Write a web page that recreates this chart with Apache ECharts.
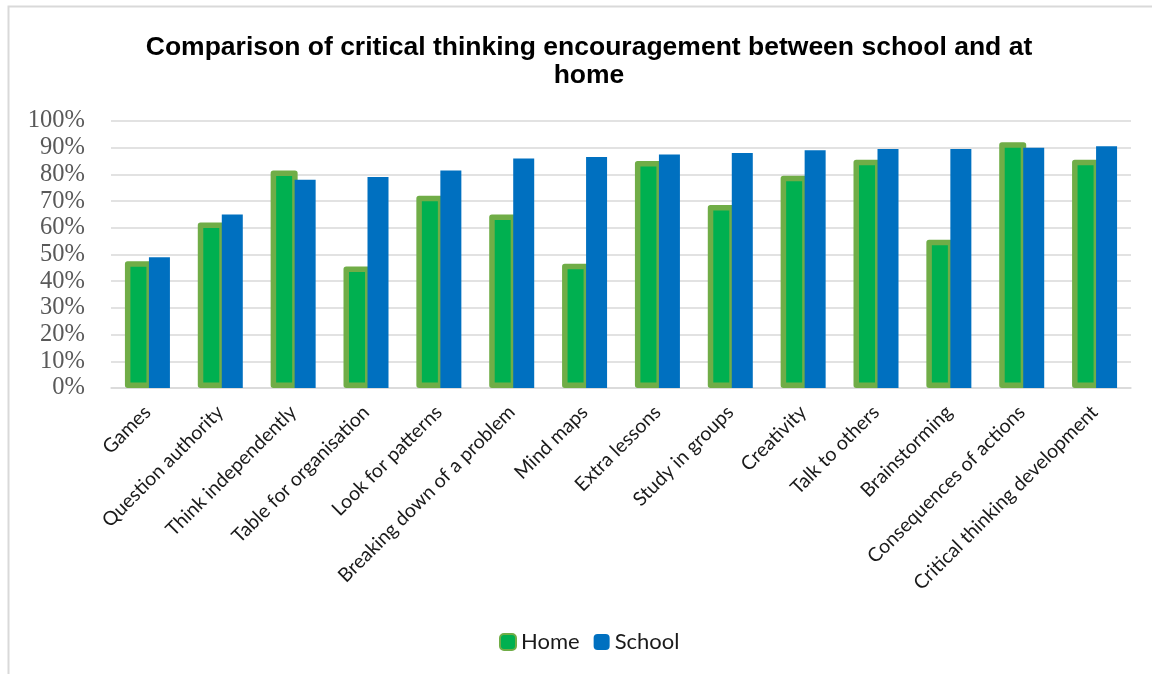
<!DOCTYPE html>
<html>
<head>
<meta charset="utf-8">
<script src="https://cdn.jsdelivr.net/npm/echarts@6/dist/echarts.min.js"></script>
<style>
  html, body { margin: 0; padding: 0; background: #ffffff; }
  #chart { width: 1152px; height: 674px; }
</style>
</head>
<body>
<div id="chart"></div>
<script>
// Survey items, in display order
const categories = [
  'Games', 'Question authority', 'Think independently', 'Table for organisation',
  'Look for patterns', 'Breaking down of a problem', 'Mind maps', 'Extra lessons',
  'Study in groups', 'Creativity', 'Talk to others', 'Brainstorming',
  'Consequences of actions', 'Critical thinking development'
];

// Share of respondents (%) encouraged at home
const homeValues = [47.5, 62, 81.5, 45.5, 72, 65, 46.5, 85, 68.5, 79.5, 85.5, 55.5, 92, 85.5];

// Share of respondents (%) encouraged at school
const schoolValues = [49, 65, 78, 79, 81.5, 86, 86.5, 87.5, 88, 89, 89.5, 89.5, 90, 90.5];

// Value axis ticks
const yTicks = [0, 10, 20, 30, 40, 50, 60, 70, 80, 90, 100];

const chart = echarts.init(document.getElementById('chart'), null, { renderer: 'canvas' });

const homeBarWidth = 27;
const schoolBarWidth = 21;

chart.setOption({
  backgroundColor: '#ffffff',
  animation: false,
  title: {
    text: 'Comparison of critical thinking encouragement between school and at\nhome',
    left: 584,
    textAlign: 'center',
    top: 29,
    textStyle: {
      fontFamily: '"Liberation Sans", Arial, sans-serif',
      fontWeight: 'bold',
      fontSize: 26.5,
      lineHeight: 28,
      color: '#000000'
    }
  },
  graphic: [
    {
      type: 'rect',
      silent: true,
      shape: { x: 8.5, y: 6.5, width: 1200, height: 800 },
      style: { fill: 'none', stroke: '#d9d9d9', lineWidth: 2 }
    }
  ],
  legend: {
    data: ['Home', 'School'],
    left: 494,
    top: 626,
    itemWidth: 16,
    itemHeight: 16,
    itemGap: 14,
    textStyle: {
      fontFamily: 'Lato, "Open Sans", sans-serif',
      fontSize: 22,
      color: '#1a1a1a'
    }
  },
  grid: {
    left: 111,
    right: 21,
    top: 121,
    bottom: 286,
    containLabel: false
  },
  xAxis: {
    type: 'category',
    data: categories,
    axisLine: { lineStyle: { color: '#d9d9d9', width: 1.5 } },
    axisTick: { show: false },
    axisLabel: {
      rotate: 45,
      interval: 0,
      margin: 21,
      fontFamily: 'Lato, "Open Sans", sans-serif',
      fontSize: 19.5,
      color: '#1a1a1a'
    }
  },
  yAxis: {
    type: 'value',
    min: yTicks[0],
    max: yTicks[yTicks.length - 1],
    interval: yTicks[1] - yTicks[0],
    axisLine: { show: false },
    axisTick: { show: false },
    splitLine: { lineStyle: { color: '#d9d9d9', width: 1.5 } },
    axisLabel: {
      formatter: '{value}%',
      margin: 26,
      fontFamily: '"Liberation Serif", "Times New Roman", serif',
      fontSize: 24.5,
      color: '#595959'
    }
  },
  series: [
    {
      name: 'Home',
      type: 'bar',
      data: homeValues,
      barWidth: homeBarWidth,
      // the school bar tucks over the right edge of the home outline
      barGap: (-3 / homeBarWidth * 100) + '%',
      itemStyle: {
        color: '#00b050',
        borderColor: '#70ad47',
        borderWidth: 5.5,
        borderJoin: 'round'
      }
    },
    {
      name: 'School',
      type: 'bar',
      data: schoolValues,
      barWidth: schoolBarWidth,
      itemStyle: {
        color: '#0070c0'
      }
    }
  ]
});
</script>
</body>
</html>
